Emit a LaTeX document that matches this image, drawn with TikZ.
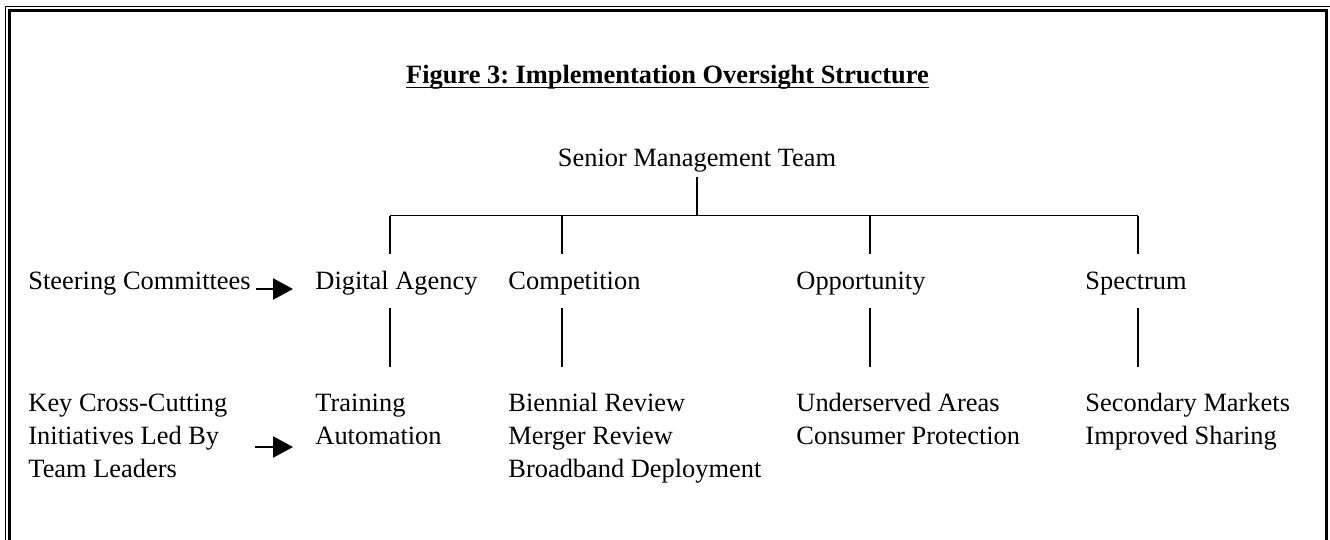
\documentclass[tikz,border=0pt]{standalone}
\usepackage{fontspec}
\setmainfont{Liberation Serif}
\frenchspacing
\usetikzlibrary{arrows.meta}
\begin{document}
\begin{tikzpicture}[x=0.4545pt,y=-0.4545pt,
    lbl/.style={inner sep=0pt,anchor=base west,align=left,font=\fontsize{12}{15}\selectfont},
    tree/.style={line width=0.8pt},
    arr/.style={line width=0.9pt,-{Triangle[length=9pt,width=9.5pt]}}]
  \useasboundingbox (0,0) rectangle (1330,539);
  % double frame
  \draw[line width=0.5pt] (5.5,560) -- (5.5,6.5) -- (1350,6.5);
  \draw[line width=1.2pt] (9.5,560) -- (9.5,10.5) -- (1326.5,10.5) -- (1326.5,560);
  % title
  \node[lbl,anchor=base,font=\fontsize{12}{15}\selectfont\bfseries] (title) at (667.5,83)
       {Figure 3: Implementation Oversight Structure};
  \draw[line width=0.7pt] ([yshift=-2pt]title.base west) -- ([yshift=-2pt]title.base east);
  % top of the tree
  \node[lbl,anchor=base] (smt) at (697,166) {Senior Management Team};
  \coordinate (hub) at (697,215.5);
  % second row
  \node[lbl] (steer) at (28,289) {Steering Committees};
  \node[lbl] (dig) at (315,289) {Digital Agency};
  \node[lbl] (comp) at (508,289) {Competition};
  \node[lbl] (opp) at (796,289) {Opportunity};
  \node[lbl] (spec) at (1085,289) {Spectrum};
  % third row (base = last line)
  \node[lbl] (key) at (28,477) {Key Cross-Cutting\\Initiatives Led By\\Team Leaders};
  \node[lbl] (train) at (315,444) {Training\\Automation};
  \node[lbl] (bien) at (508,477) {Biennial Review\\Merger Review\\Broadband Deployment};
  \node[lbl] (under) at (796,444) {Underserved Areas\\Consumer Protection};
  \node[lbl] (second) at (1085,444) {Secondary Markets\\Improved Sharing};
  \coordinate (kl) at (250,447);
  % connectors
  \foreach \x [count=\i] in {390,562,870,1138} {
    \coordinate (d\i) at (\x,254);
    \coordinate (t\i) at (\x,308);
    \coordinate (b\i) at (\x,367);
    \draw[tree] (d\i) -- (d\i |- hub);
    \draw[tree] (t\i) -- (b\i);
  }
  \draw[tree,shorten <=2.3pt] (smt.south) -- (hub);
  \draw[tree] (d1 |- hub) -- (d4 |- hub);
  \draw[arr,shorten <=2.3pt,shorten >=10pt] (steer.base east) -- (dig.base west);
  \draw[arr,shorten <=2.3pt,shorten >=10pt] (kl) -- (kl -| train.west);
\end{tikzpicture}
\end{document}
